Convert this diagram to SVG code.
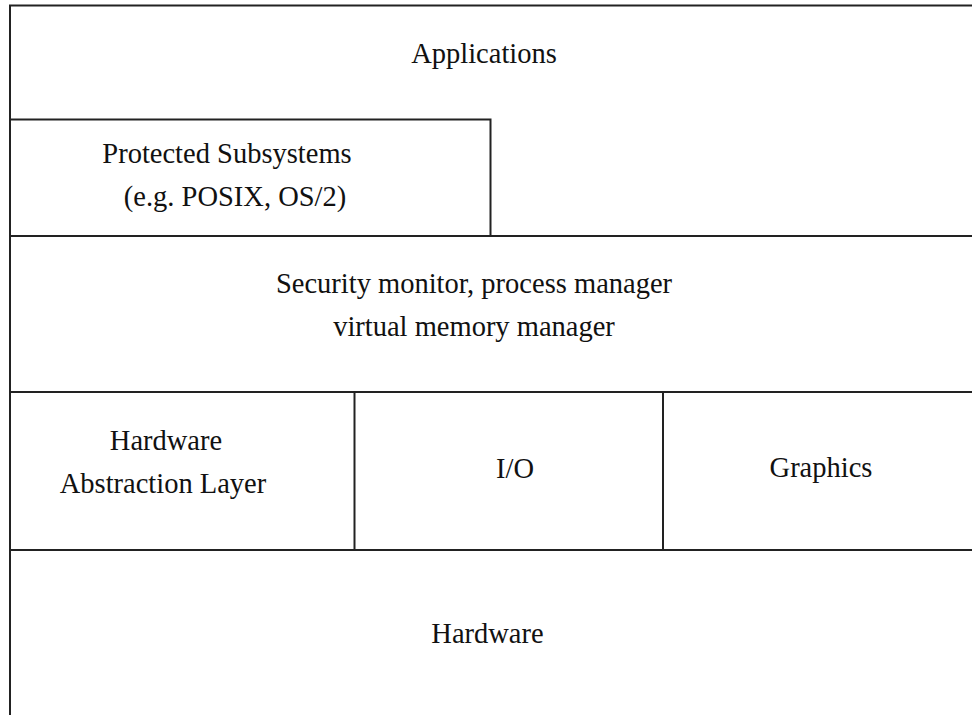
<svg xmlns="http://www.w3.org/2000/svg" width="972" height="715" viewBox="0 0 972 715">
  <style>
    .ln { stroke: #222; stroke-width: 2; fill: none; }
    .t { font-family: "Liberation Serif", "Times New Roman", serif; font-size: 28.5px; fill: #111; text-anchor: middle; }
  </style>
  <rect x="0" y="0" width="972" height="715" fill="#fff"/>
  <g id="frame">
    <path class="ln" d="M10,715 V5.5 H972"/>
    <path class="ln" d="M10,119.5 H490.5 V236"/>
    <path class="ln" d="M10,236 H972"/>
    <path class="ln" d="M10,392 H972"/>
    <path class="ln" d="M10,550 H972"/>
    <path class="ln" d="M354.5,392 V550"/>
    <path class="ln" d="M663,392 V550"/>
  </g>
  <g id="applications">
    <text class="t" x="484" y="63">Applications</text>
  </g>
  <g id="protected-subsystems">
    <text class="t" x="227" y="163">Protected Subsystems</text>
    <text class="t" x="235" y="206">(e.g. POSIX, OS/2)</text>
  </g>
  <g id="executive">
    <text class="t" x="474" y="293">Security monitor, process manager</text>
    <text class="t" x="474" y="336">virtual memory manager</text>
  </g>
  <g id="hal">
    <text class="t" x="166" y="450">Hardware</text>
    <text class="t" x="163" y="493">Abstraction Layer</text>
  </g>
  <g id="io">
    <text class="t" x="515" y="478">I/O</text>
  </g>
  <g id="graphics">
    <text class="t" x="821" y="477">Graphics</text>
  </g>
  <g id="hardware">
    <text class="t" x="487.5" y="643">Hardware</text>
  </g>
</svg>
